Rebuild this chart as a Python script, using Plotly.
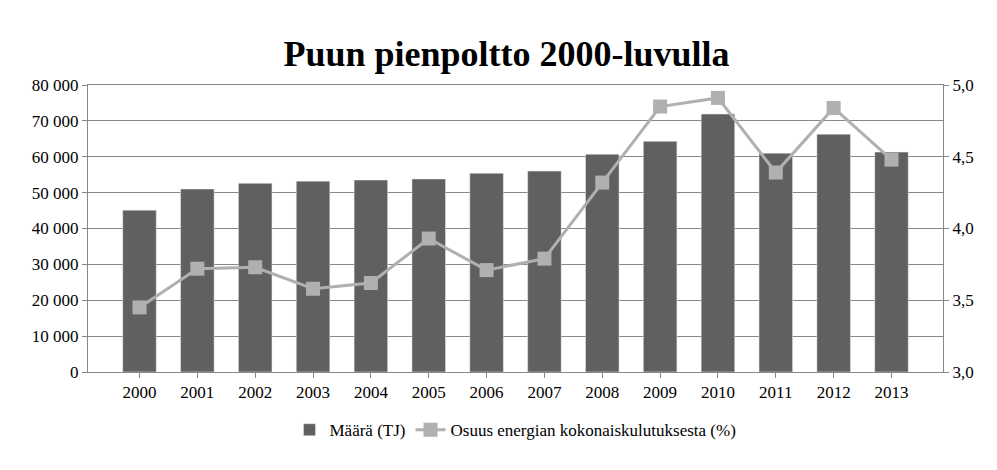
import plotly.graph_objects as go

years = [str(y) for y in range(2000, 2014)]
maara = [45100, 51000, 52600, 53200, 53500, 53800, 55400, 56000, 60700, 64300, 71900, 61000, 66300, 61300]
osuus = [3.45, 3.72, 3.73, 3.58, 3.62, 3.93, 3.71, 3.79, 4.32, 4.85, 4.91, 4.39, 4.84, 4.48]

font = "Liberation Serif"
tf = dict(family=font, size=17, color="black")

fig = go.Figure()
fig.add_trace(go.Bar(x=years, y=maara, name="Määrä (TJ)", marker_color="#606060", width=0.58))
fig.add_trace(go.Scatter(x=years, y=osuus, name="Osuus energian kokonaiskulutuksesta (%)", yaxis="y2",
                         mode="lines+markers", line=dict(color="#b0b0b0", width=3),
                         marker=dict(symbol="square", size=14, color="#b0b0b0")))

fig.update_layout(
    width=997, height=470,
    paper_bgcolor="white", plot_bgcolor="white",
    font=dict(family=font, size=17, color="black"),
    title=dict(text="<b>Puun pienpoltto 2000-luvulla</b>", x=0.5, y=0.93, xanchor="center",
               font=dict(family=font, size=36)),
    margin=dict(l=80, r=62, t=77, b=106),
    xaxis=dict(showline=True, linecolor="#888", mirror=True, ticks="outside", tickcolor="#888", tickfont=tf),
    yaxis=dict(range=[0, 80000], dtick=10000, tickformat=",d", tickfont=tf,
               showgrid=True, gridcolor="#888", showline=True, linecolor="#888",
               ticks="outside", tickcolor="#888", zeroline=False),
    yaxis2=dict(range=[3, 5], dtick=0.5, tickformat=".1f", overlaying="y", side="right", tickfont=tf,
                showgrid=False, showline=True, linecolor="#888", ticks="outside", tickcolor="#888"),
    separators=", ",
    legend=dict(orientation="h", x=0.5, xanchor="center", y=-0.14, yanchor="top",
                font=dict(family=font, size=17)),
)

fig.write_html("out.html")
